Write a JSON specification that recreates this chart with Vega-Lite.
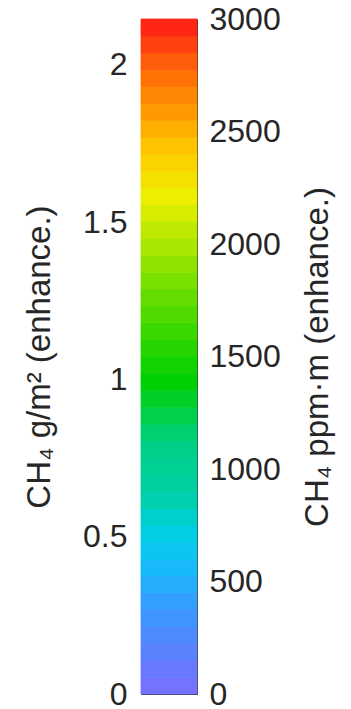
{
  "$schema": "https://vega.github.io/schema/vega-lite/v6.json",
  "width": 56,
  "height": 675,
  "autosize": "none",
  "padding": {"left": 141, "top": 19, "right": 154, "bottom": 15},
  "background": "white",
  "config": {
    "view": {"stroke": "#3a3a3a", "strokeWidth": 1},
    "axis": {
      "labelFont": "Liberation Sans",
      "labelFontSize": 32,
      "labelColor": "#262626",
      "labelFlush": false,
      "labelOverlap": false,
      "labelBound": false,
      "tickColor": "#333333",
      "tickSize": 6,
      "tickWidth": 1,
      "offset": -6,
      "domain": false,
      "grid": false,
      "zindex": 2,
      "titleFont": "Liberation Sans",
      "titleFontSize": 33,
      "titleFontWeight": "normal",
      "titleColor": "#262626"
    }
  },
  "data": {
    "values": [
      {"lo": 0, "hi": 75, "mid": 37.5},
      {"lo": 75, "hi": 150, "mid": 112.5},
      {"lo": 150, "hi": 225, "mid": 187.5},
      {"lo": 225, "hi": 300, "mid": 262.5},
      {"lo": 300, "hi": 375, "mid": 337.5},
      {"lo": 375, "hi": 450, "mid": 412.5},
      {"lo": 450, "hi": 525, "mid": 487.5},
      {"lo": 525, "hi": 600, "mid": 562.5},
      {"lo": 600, "hi": 675, "mid": 637.5},
      {"lo": 675, "hi": 750, "mid": 712.5},
      {"lo": 750, "hi": 825, "mid": 787.5},
      {"lo": 825, "hi": 900, "mid": 862.5},
      {"lo": 900, "hi": 975, "mid": 937.5},
      {"lo": 975, "hi": 1050, "mid": 1012.5},
      {"lo": 1050, "hi": 1125, "mid": 1087.5},
      {"lo": 1125, "hi": 1200, "mid": 1162.5},
      {"lo": 1200, "hi": 1275, "mid": 1237.5},
      {"lo": 1275, "hi": 1350, "mid": 1312.5},
      {"lo": 1350, "hi": 1425, "mid": 1387.5},
      {"lo": 1425, "hi": 1500, "mid": 1462.5},
      {"lo": 1500, "hi": 1575, "mid": 1537.5},
      {"lo": 1575, "hi": 1650, "mid": 1612.5},
      {"lo": 1650, "hi": 1725, "mid": 1687.5},
      {"lo": 1725, "hi": 1800, "mid": 1762.5},
      {"lo": 1800, "hi": 1875, "mid": 1837.5},
      {"lo": 1875, "hi": 1950, "mid": 1912.5},
      {"lo": 1950, "hi": 2025, "mid": 1987.5},
      {"lo": 2025, "hi": 2100, "mid": 2062.5},
      {"lo": 2100, "hi": 2175, "mid": 2137.5},
      {"lo": 2175, "hi": 2250, "mid": 2212.5},
      {"lo": 2250, "hi": 2325, "mid": 2287.5},
      {"lo": 2325, "hi": 2400, "mid": 2362.5},
      {"lo": 2400, "hi": 2475, "mid": 2437.5},
      {"lo": 2475, "hi": 2550, "mid": 2512.5},
      {"lo": 2550, "hi": 2625, "mid": 2587.5},
      {"lo": 2625, "hi": 2700, "mid": 2662.5},
      {"lo": 2700, "hi": 2775, "mid": 2737.5},
      {"lo": 2775, "hi": 2850, "mid": 2812.5},
      {"lo": 2850, "hi": 2925, "mid": 2887.5},
      {"lo": 2925, "hi": 3000, "mid": 2962.5}
    ]
  },
  "layer": [
    {
      "mark": {"type": "rect", "strokeWidth": 0.8},
      "encoding": {
        "y": {
          "field": "lo",
          "type": "quantitative",
          "scale": {"domain": [0, 3000], "nice": false, "zero": false},
          "axis": {
            "orient": "right",
            "values": [0, 500, 1000, 1500, 2000, 2500, 3000],
            "format": "d",
            "labelPadding": 12,
            "title": "CH₄ ppm·m (enhance.)",
            "titleAngle": 270,
            "titlePadding": 54
          }
        },
        "y2": {"field": "hi"},
        "color": {
          "field": "mid",
          "type": "quantitative",
          "scale": {
            "domain": [0, 196, 373, 596, 729, 884, 1129, 1396, 1751, 2018, 2218, 2418, 2596, 2773, 3000],
            "range": ["#7a6eff", "#5a82ff", "#3a98ff", "#12c0f8", "#00d0e0", "#00d0a8", "#00d080", "#00d000", "#60dc00", "#b0e800", "#f0ee00", "#ffc800", "#ff9800", "#ff6a08", "#ff1818"],
            "interpolate": "rgb"
          },
          "legend": null
        },
        "stroke": {
          "field": "mid",
          "type": "quantitative",
          "scale": {
            "domain": [0, 196, 373, 596, 729, 884, 1129, 1396, 1751, 2018, 2218, 2418, 2596, 2773, 3000],
            "range": ["#7a6eff", "#5a82ff", "#3a98ff", "#12c0f8", "#00d0e0", "#00d0a8", "#00d080", "#00d000", "#60dc00", "#b0e800", "#f0ee00", "#ffc800", "#ff9800", "#ff6a08", "#ff1818"],
            "interpolate": "rgb"
          },
          "legend": null
        }
      }
    },
    {
      "mark": {"type": "rule", "opacity": 0},
      "encoding": {
        "y": {
          "datum": 0,
          "type": "quantitative",
          "scale": {"domain": [0, 2.1459], "nice": false, "zero": false},
          "axis": {
            "orient": "left",
            "values": [0, 0.5, 1, 1.5, 2],
            "format": ".1~f",
            "labelPadding": 14,
            "title": "CH₄ g/m² (enhance.)",
            "titleAngle": 270,
            "titlePadding": 26
          }
        }
      }
    }
  ],
  "resolve": {"scale": {"y": "independent", "color": "independent", "stroke": "independent"}, "axis": {"y": "independent"}}
}
